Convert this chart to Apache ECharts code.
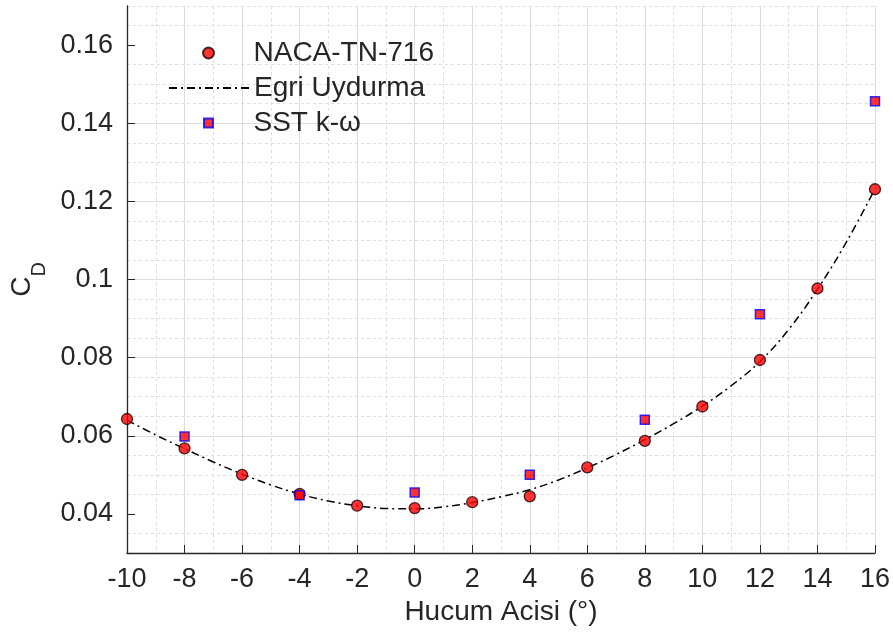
<!DOCTYPE html>
<html>
<head>
<meta charset="utf-8">
<script src="https://cdn.jsdelivr.net/npm/echarts@6/dist/echarts.min.js"></script>
<style>
html,body{margin:0;padding:0;background:#ffffff;}
#c{width:893px;height:635px;}
</style>
</head>
<body>
<div id="c"></div>
<script>
// ---- data ----
const angles = [-10, -8, -6, -4, -2, 0, 2, 4, 6, 8, 10, 12, 14, 16];
const nacaCd = [0.0643, 0.0568, 0.0500, 0.0451, 0.0421, 0.0415, 0.0430, 0.0445, 0.0519, 0.0587, 0.0675, 0.0794, 0.0977, 0.1231];

const sstAngles = [-8, -4, 0, 4, 8, 12, 16];
const sstCd = [0.0598, 0.0448, 0.0455, 0.0500, 0.0641, 0.0911, 0.1456];

const fitAngles = [-10, -9, -8, -7, -6, -5, -4, -3, -2, -1, 0, 1, 2, 3, 4, 5, 6, 7, 8, 9, 10, 11, 12, 13, 14, 15, 16];
const fitCd = [0.0640, 0.0602, 0.0567, 0.0533, 0.0502, 0.0474, 0.0451, 0.0433, 0.0421, 0.0414, 0.0413, 0.0418, 0.0429, 0.0444, 0.0462, 0.0487, 0.0518, 0.0552, 0.0590, 0.0631, 0.0676, 0.0728, 0.0790, 0.0872, 0.0975, 0.1095, 0.1232];

const yTickValues = [0.04, 0.06, 0.08, 0.10, 0.12, 0.14, 0.16];
const yTickLabels = ['0.04', '0.06', '0.08', '0.1', '0.12', '0.14', '0.16'];

const seriesNames = ['NACA-TN-716', 'Egri Uydurma', 'SST k-\u03c9'];

// ---- chart ----
const FONT = '"Liberation Sans", Arial, Helvetica, sans-serif';
const TXT = '#262626';
const MAJOR = '#dcdcdc';
const MINOR = '#dedede';
const SQUARE_ICON = 'path://M0,0L10,0L10,10L0,10Z';

const chart = echarts.init(document.getElementById('c'), null, {renderer: 'canvas'});

function legendAt(item, left, top, itemHeight, extra) {
  return Object.assign({
    data: [item],
    left: left,
    top: top,
    orient: 'vertical',
    padding: 0,
    itemWidth: 80,
    itemHeight: itemHeight,
    selectedMode: false,
    textStyle: {fontFamily: FONT, fontSize: 28, color: TXT}
  }, extra || {});
}

const option = {
  animation: false,
  backgroundColor: '#ffffff',
  grid: {left: 127, right: 17, top: 6, bottom: 82},
  legend: [
    legendAt({name: seriesNames[0], icon: 'circle'}, 202, 39, 11),
    legendAt({name: seriesNames[1]}, 168, 74, 11, {itemStyle: {color: 'rgba(0,0,0,0)', borderWidth: 0, borderColor: 'rgba(0,0,0,0)'}}),
    legendAt({name: seriesNames[2], icon: SQUARE_ICON}, 203, 109, 9)
  ],
  xAxis: {
    type: 'value',
    min: -10,
    max: 16,
    interval: 2,
    name: 'Hucum Acisi (\u00b0)',
    nameLocation: 'middle',
    nameGap: 45,
    nameTextStyle: {fontFamily: FONT, fontSize: 28, color: TXT},
    axisLine: {onZero: false, lineStyle: {color: TXT, width: 1.3}},
    axisTick: {inside: true, length: 8, lineStyle: {color: TXT, width: 1}},
    axisLabel: {margin: 13, fontFamily: FONT, fontSize: 27, color: TXT},
    splitLine: {show: true, lineStyle: {color: MAJOR, width: 1}},
    minorTick: {show: false, splitNumber: 2},
    minorSplitLine: {show: true, lineStyle: {color: MINOR, width: 1, type: [3, 3]}}
  },
  yAxis: {
    type: 'value',
    min: 0.03,
    max: 0.17,
    splitNumber: 7,
    minInterval: 0.02,
    maxInterval: 0.02,
    name: '{c|C}{d|D}{s|}',
    nameLocation: 'middle',
    nameRotate: 90,
    nameGap: 58,
    nameTextStyle: {
      fontFamily: FONT,
      color: TXT,
      rich: {
        c: {fontFamily: FONT, fontSize: 28, color: TXT, lineHeight: 28, verticalAlign: 'top'},
        d: {fontFamily: FONT, fontSize: 20, color: TXT, lineHeight: 20, verticalAlign: 'bottom'},
        s: {fontSize: 1, lineHeight: 41, width: 0}
      }
    },
    axisLine: {onZero: false, lineStyle: {color: TXT, width: 1.3}},
    axisTick: {inside: true, length: 8, lineStyle: {color: TXT, width: 1}, customValues: yTickValues},
    axisLabel: {
      margin: 14,
      fontFamily: FONT,
      fontSize: 27,
      color: TXT,
      customValues: yTickValues,
      formatter: function (v) {
        for (let i = 0; i < yTickValues.length; i++) {
          if (Math.abs(v - yTickValues[i]) < 1e-6) return yTickLabels[i];
        }
        return '';
      }
    },
    splitLine: {show: true, showMinLine: false, showMaxLine: false, lineStyle: {color: MAJOR, width: 1}},
    minorTick: {show: false, splitNumber: 4},
    minorSplitLine: {show: true, lineStyle: {color: MINOR, width: 1, type: [3, 3]}}
  },
  series: [
    {
      name: seriesNames[1],
      type: 'line',
      data: fitAngles.map((a, i) => [a, fitCd[i]]),
      smooth: 0.4,
      symbol: 'none',
      showSymbol: false,
      z: 2,
      lineStyle: {color: '#000000', width: 1.5, type: [8, 4, 2, 4]},
      itemStyle: {color: 'rgba(0,0,0,0)', borderWidth: 0}
    },
    {
      name: seriesNames[0],
      type: 'scatter',
      data: angles.map((a, i) => [a, nacaCd[i]]),
      symbol: 'circle',
      symbolSize: 11,
      z: 3,
      itemStyle: {color: '#ff0000', borderColor: '#1a0000', borderWidth: 1.3}
    },
    {
      name: seriesNames[2],
      type: 'scatter',
      data: sstAngles.map((a, i) => [a, sstCd[i]]),
      symbol: 'rect',
      symbolSize: 9,
      z: 4,
      itemStyle: {color: '#ff0000', borderColor: '#0000ff', borderWidth: 1.5}
    }
  ]
};

chart.setOption(option);
</script>
</body>
</html>
